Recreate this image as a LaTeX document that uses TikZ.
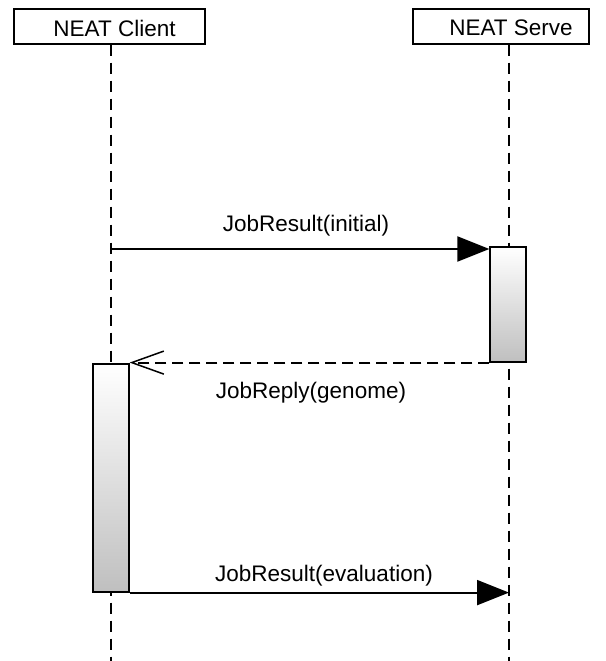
\documentclass[tikz,border=0pt]{standalone}
\usepackage{fontspec}
\setmainfont{Liberation Sans}
\usetikzlibrary{arrows.meta}
\begin{document}
\begin{tikzpicture}[x=1pt,y=1pt,
  actor/.style={draw=black,line width=1.2pt,fill=white,minimum width=191pt,minimum height=35pt,inner sep=0pt},
  actorlabel/.style={font=\fontsize{22.5}{26}\selectfont,inner sep=0pt},
  lifeline/.style={line width=1.5pt,dash pattern=on 11pt off 7pt},
  activation/.style={draw=black,line width=1.2pt,top color=white,bottom color=black!25,minimum width=36pt,inner sep=0pt},
  msg/.style={line width=2pt},
  msglabel/.style={font=\fontsize{22.5}{26}\selectfont,inner sep=0pt},
  filled/.style={-{Triangle[length=32pt,width=25pt]}},
  openhead/.style={-{Straight Barb[length=32pt,width=23pt,line width=1.5pt]}}
]
\useasboundingbox (0,0) rectangle (605,661);
% actors
\node[actor] (client) at (109.5,634.5) {};
\node[actorlabel] (clienttext) at (114.5,633) {NEAT Client};
\node[actor,minimum width=176pt] (server) at (501,634.5) {};
\node[actorlabel] (servertext) at (511,633) {NEAT Serve};
% lifeline ends
\coordinate (cl) at (111,0);
\coordinate (sl) at (509,0);
\draw[lifeline] (client.south -| cl) -- (cl);
\draw[lifeline] (server.south -| sl) -- (sl);
% activations
\node[activation,minimum height=115pt] (sact) at (508,356.5) {};
\node[activation,minimum height=228pt] (cact) at (111,183) {};
% messages
\coordinate (m1) at (111,412);
\draw[msg,filled] (m1) -- (m1 -| sact.west);
\node[msglabel] (l1) at (306,435) {JobResult(initial)};
\draw[msg,dash pattern=on 11pt off 6pt,openhead] (sact.south west) -- (sact.south west -| cact.east);
\node[msglabel] (l2) at (311,268) {JobReply(genome)};
\draw[msg,filled] (cact.south east) -- (cact.south east -| sl);
\node[msglabel] (l3) at (324,85) {JobResult(evaluation)};
\end{tikzpicture}
\end{document}
